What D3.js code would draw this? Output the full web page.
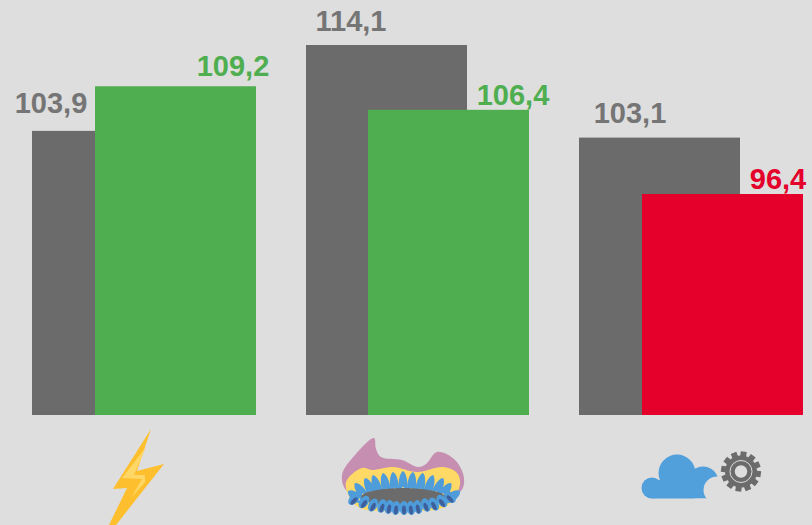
<!DOCTYPE html>
<html><head><meta charset="utf-8">
<script src="https://cdn.jsdelivr.net/npm/d3@7/dist/d3.min.js"></script>
<style>html,body{margin:0;padding:0;background:#dedede}svg{display:block}</style>
</head><body><svg id="c" width="812" height="525"></svg>
<script>
const categories = ["electricity", "gas", "cloud"];
const previousValues = [103.9, 114.1, 103.1];
const currentValues = [109.2, 106.4, 96.4];
const previousLabels = ["103,9", "114,1", "103,1"];
const currentLabels = ["109,2", "106,4", "96,4"];
const currentColors = ["#4fae50", "#4fae50", "#e4002b"];
const colorPrev = "#6b6b6b", bg = "#dedede";

const svg = d3.select("#c");
const y = d3.scaleLinear().domain([70.15, 114.1]).range([415, 45]);
const barW = 161;
const prevX = d3.scaleOrdinal().domain(categories).range([32, 306, 579]);
const curX = d3.scaleOrdinal().domain(categories).range([95, 368, 642]);
const font = "'Liberation Sans', Arial, sans-serif";

categories.forEach((c, i) => {
  svg.append("rect").attr("x", prevX(c)).attr("y", y(previousValues[i])).attr("width", barW)
    .attr("height", y.range()[0] - y(previousValues[i])).attr("fill", colorPrev);
  svg.append("rect").attr("x", curX(c)).attr("y", y(currentValues[i])).attr("width", barW)
    .attr("height", y.range()[0] - y(currentValues[i])).attr("fill", currentColors[i]);
});
const lbl = (t, cx, base, col) => svg.append("text").text(t).attr("x", cx).attr("y", base)
  .attr("text-anchor", "middle").attr("font-family", font).attr("font-weight", 700)
  .attr("font-size", 29).attr("fill", col);
const prevCx = [51, 351, 630], curCx = [233, 513, 778];
const prevGap = [18, 14, 15], curGap = [10, 5, 5];
categories.forEach((c, i) => {
  lbl(previousLabels[i], prevCx[i], y(previousValues[i]) - prevGap[i], "#757575");
  lbl(currentLabels[i], curCx[i], y(currentValues[i]) - curGap[i], currentColors[i]);
});

// icon: lightning
const line = d3.line();
const bolt = svg.append("g");
bolt.append("path").attr("fill", "#fdbf2d").attr("d", line([[151,429],[113,489],[127,488],[109,525],[116,525],[164,464],[137,471]]) + "Z");
bolt.append("path").attr("fill", "#ffd766").attr("d", line([[146,447],[122,478],[142,479],[131,498],[145,482],[145,475],[134,475]]) + "Z");

// icon: gas burner
const burner = svg.append("g");
const closed = d3.line().curve(d3.curveCatmullRomClosed.alpha(0.5));
burner.append("path").attr("fill", "#c68fb2").attr("d", closed([
  [374,438],[376,449],[381,457],[402,460],[418,467],[426,464],[437,452],[455,460],[464,478],[460,492],[403,500],[348,492],[342,475],[355,455]]));
burner.append("path").attr("fill", "#ffd966").attr("d", closed([
  [346,482],[362,468],[372,470],[393,467],[417,472],[443,467],[457,473],[460,484],[447,506],[403,511],[360,508],[350,498]]));
const topTips = [[348,491],[355,483],[365,478],[373,475],[383,473],[393,472],[403,471],[413,472],[423,473],[433,475],[443,478],[451,483],[460,491]];
const botTips = [[354,501],[364,504],[373,507],[382,508],[389,509],[396,510],[404,510],[411,510],[418,509],[426,507],[434,506],[442,503],[450,499]];
const cx = 403, cy = 497;
const teardrop = (g, tip, bx, by, w, fill) => {
  const dx = bx - tip[0], dy = by - tip[1], len = Math.hypot(dx, dy), nx = -dy / len * w, ny = dx / len * w;
  const p = (t, s) => `${tip[0] + dx * t + nx * s},${tip[1] + dy * t + ny * s}`;
  g.append("path").attr("fill", fill).attr("d",
    `M${p(0,0)}C${p(0.1,1.3)} ${p(0.9,1.5)} ${p(1,0)}C${p(0.9,-1.5)} ${p(0.1,-1.3)} ${p(0,0)}Z`);
};
topTips.forEach(t => {
  const bx = cx + (t[0] - cx) * 0.72, by = cy + 2 + Math.abs(t[0] - cx) * 0.06;
  teardrop(burner, t, bx, by, 4.2, "#4f9cdb");
  const sx = t[0] + (bx - t[0]) * 0.66, sy = t[1] + (by - t[1]) * 0.66;
  burner.append("ellipse").attr("cx", sx).attr("cy", sy).attr("rx", 1.3).attr("ry", 2.4).attr("fill", "#ffe38a")
    .attr("transform", `rotate(${(t[0] - cx) * 0.9} ${sx} ${sy})`);
});
burner.append("ellipse").attr("cx", cx).attr("cy", cy).attr("rx", 42).attr("ry", 9).attr("fill", "#6b6b6b");
botTips.forEach(t => {
  const r = (cx - t[0]) * 0.9;
  burner.append("ellipse").attr("cx", t[0]).attr("cy", t[1] - 2).attr("rx", 4.4).attr("ry", 7).attr("fill", "#4f9cdb")
    .attr("transform", `rotate(${r} ${t[0]} ${t[1]-2})`);
  burner.append("ellipse").attr("cx", t[0]).attr("cy", t[1]).attr("rx", 2).attr("ry", 4.5).attr("fill", "#3e5f9c")
    .attr("transform", `rotate(${r} ${t[0]} ${t[1]})`);
});

// icon: cloud and gear
const cloud = svg.append("g").attr("fill", "#519fdb");
cloud.append("circle").attr("cx", 677).attr("cy", 473).attr("r", 18.5);
cloud.append("circle").attr("cx", 652).attr("cy", 488).attr("r", 10.5);
cloud.append("circle").attr("cx", 703).attr("cy", 482).attr("r", 15.5);
cloud.append("rect").attr("x", 652).attr("y", 480).attr("width", 55).attr("height", 18.5);
svg.append("circle").attr("cx", 717).attr("cy", 490).attr("r", 13.5).attr("fill", bg);
svg.append("rect").attr("x", 695).attr("y", 498.5).attr("width", 30).attr("height", 8).attr("fill", bg);

const gear = svg.append("g").attr("transform", "translate(741,471.5)");
d3.range(12).forEach(k => gear.append("rect").attr("x", -3).attr("y", -20).attr("width", 6).attr("height", 8)
  .attr("fill", "#6b6b6b").attr("transform", `rotate(${k * 30 + 8})`));
gear.append("circle").attr("r", 16).attr("fill", "#6b6b6b");
gear.append("circle").attr("r", 11).attr("fill", "none").attr("stroke", "#dedede").attr("stroke-width", 1);
gear.append("circle").attr("r", 6.2).attr("fill", bg);
</script></body></html>
